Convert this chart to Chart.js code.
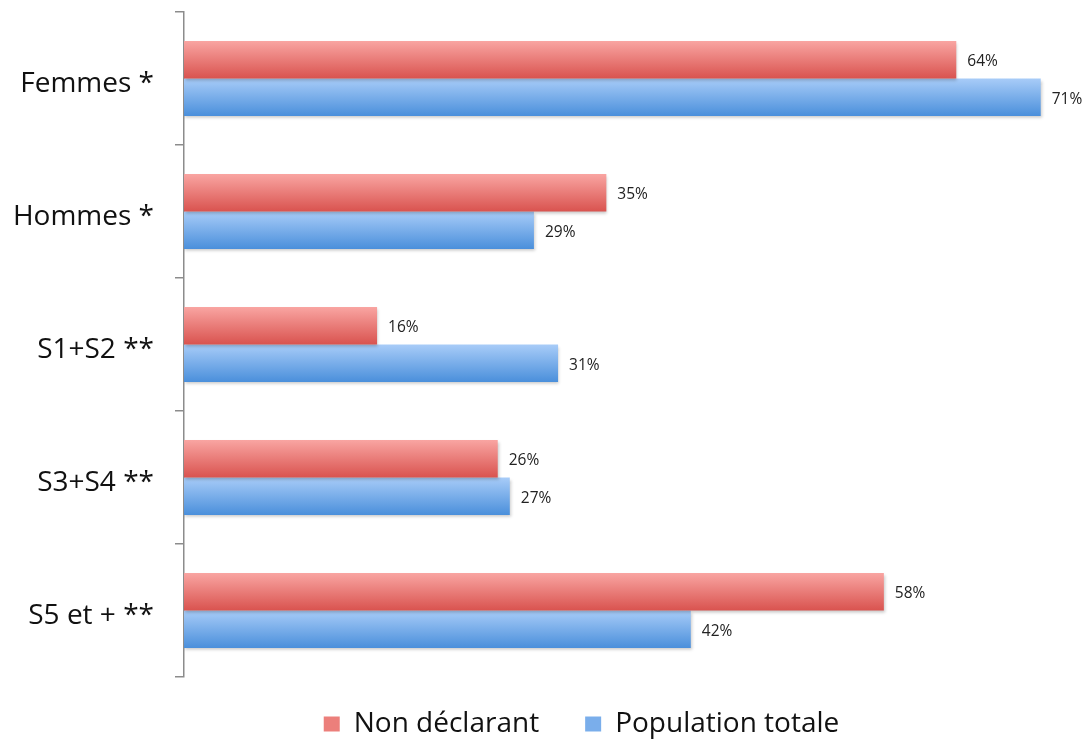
<!DOCTYPE html>
<html lang="fr">
<head>
<meta charset="utf-8">
<title>Non déclarants / population totale</title>
<script src="https://cdn.jsdelivr.net/npm/chart.js@4/dist/chart.umd.min.js"></script>
<style>
    html, body { margin: 0; padding: 0; background: #fff; }
    #wrap { width: 1092px; height: 740px; }
</style>
</head>
<body>
<div id="wrap"><canvas id="graph" width="1092" height="740"></canvas></div>
<script>
// Répartition (%) par sexe et par tranche
const categories = ['Femmes *', 'Hommes *', 'S1+S2 **', 'S3+S4 **', 'S5 et + **'];
const nonDeclarant = [64, 35, 16, 26, 58];
const populationTotale = [71, 29, 31, 27, 42];
const seriesNames = ['Non déclarant', 'Population totale'];

const CAT_PCT = 0.565;
const FONT = '"Open Sans", "Liberation Sans", sans-serif';

// dégradé vertical clair -> foncé sur chaque barre
function barGradient(top, bottom) {
    return (ctx) => {
        const chart = ctx.chart;
        const y = chart.scales && chart.scales.y;
        if (!y || ctx.dataIndex === undefined) return bottom;
        const c = y.getPixelForValue(ctx.dataIndex);
        const half = (y.height / categories.length) * CAT_PCT / 2;
        const y0 = ctx.datasetIndex === 0 ? c - half : c;
        const g = chart.ctx.createLinearGradient(0, y0, 0, y0 + half);
        g.addColorStop(0, top);
        g.addColorStop(1, bottom);
        return g;
    };
}

// petite ombre portée sous les barres
const ombre = {
    id: 'ombre',
    beforeDatasetsDraw(chart) {
        const c = chart.ctx;
        c.save();
        c.shadowColor = 'rgba(0,0,0,0.22)';
        c.shadowBlur = 3;
        c.shadowOffsetX = 1;
        c.shadowOffsetY = 2;
    },
    afterDatasetsDraw(chart) {
        chart.ctx.restore();
    }
};

// valeurs en bout de barre
const valeurs = {
    id: 'valeurs',
    afterDatasetsDraw(chart) {
        const c = chart.ctx;
        c.save();
        c.font = '15.5px ' + FONT;
        c.fillStyle = '#222';
        c.textBaseline = 'middle';
        c.textAlign = 'left';
        chart.data.datasets.forEach((ds, i) => {
            chart.getDatasetMeta(i).data.forEach((bar, j) => {
                c.fillText(ds.data[j] + '%', bar.x + 11, bar.y + 2);
            });
        });
        c.restore();
    }
};

// position de la légende sous le graphique
const placeLegende = {
    id: 'placeLegende',
    afterLayout(chart) {
        const lg = chart.legend;
        lg.left += 37;
        lg.right += 37;
        lg.top -= 13;
        lg.bottom = chart.height;
    }
};

new Chart(document.getElementById('graph'), {
    type: 'bar',
    data: {
        labels: categories,
        datasets: [
            {
                label: seriesNames[0],
                data: nonDeclarant,
                backgroundColor: barGradient('#f9a5a2', '#d9534f'),
                legendColor: '#ec7f7b'
            },
            {
                label: seriesNames[1],
                data: populationTotale,
                backgroundColor: barGradient('#a8ccf8', '#4a8fdb'),
                legendColor: '#7aaeeb'
            }
        ]
    },
    options: {
        indexAxis: 'y',
        responsive: false,
        animation: false,
        categoryPercentage: CAT_PCT,
        barPercentage: 1,
        layout: { padding: { top: 12, right: 3, left: 0, bottom: 0 } },
        scales: {
            x: { display: false, min: 0, max: 75 },
            y: {
                afterFit(scale) {
                    scale.width = 184;
                    scale.paddingTop = 0;
                    scale.paddingBottom = 0;
                },
                border: { color: '#8c8c8c', width: 1.5 },
                grid: {
                    offset: true,
                    drawOnChartArea: false,
                    tickLength: 9,
                    color: '#8c8c8c',
                    lineWidth: 1.5
                },
                ticks: {
                    padding: 21,
                    labelOffset: 6,
                    color: '#111',
                    font: { family: FONT, size: 28 }
                }
            }
        },
        plugins: {
            tooltip: { enabled: false },
            legend: {
                position: 'bottom',
                maxHeight: 63,
                labels: {
                    color: '#111',
                    font: { family: FONT, size: 28 },
                    boxWidth: 16,
                    boxHeight: 15,
                    padding: 46,
                    generateLabels(chart) {
                        return chart.data.datasets.map((ds, i) => ({
                            text: ds.label,
                            fillStyle: ds.legendColor,
                            strokeStyle: ds.legendColor,
                            lineWidth: 0,
                            fontColor: '#111',
                            datasetIndex: i
                        }));
                    }
                }
            }
        }
    },
    plugins: [ombre, valeurs, placeLegende]
});
</script>
</body>
</html>
